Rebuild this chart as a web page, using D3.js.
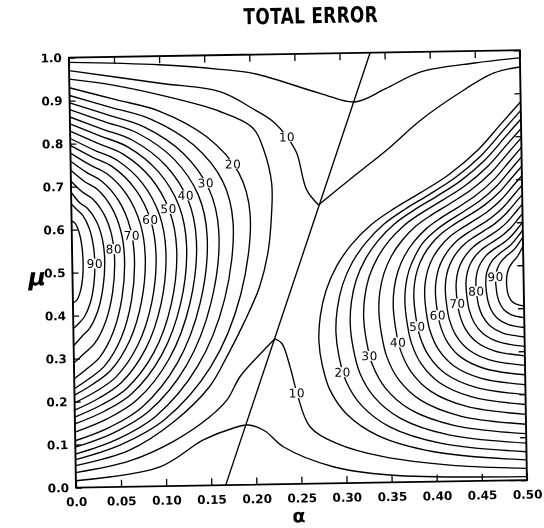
<!DOCTYPE html>
<html>
<head>
<meta charset="utf-8">
<script src="https://cdn.jsdelivr.net/npm/d3@7"></script>
<style>
  body { margin: 0; background: #fff; }
  svg { filter: grayscale(1); }
  text { font-family: "DejaVu Sans", "Liberation Sans", sans-serif; }
</style>
</head>
<body>
<svg id="chart" width="544" height="528"></svg>
<script>
// ---- data -------------------------------------------------------------
const alphaTicks = [0, 0.05, 0.10, 0.15, 0.20, 0.25, 0.30, 0.35, 0.40, 0.45, 0.50];
const muTicks = [0, 0.1, 0.2, 0.3, 0.4, 0.5, 0.6, 0.7, 0.8, 0.9, 1.0];

// straight optimum line
const ridgeAlpha = [0.166, 0.334];
const ridgeMu = [0, 1];

// contour arcs that close on a side edge, levels 15..95
const arcLevels = [15, 20, 25, 30, 35, 40, 45, 50, 55, 60, 65, 70, 75, 80, 85, 90, 95];

// arcs touching alpha = 0, points [alpha, mu] from bottom edge point to top edge point
const leftArcs = [
  [[0,.051],[.06,.085],[.11,.15],[.15,.23],[.17,.30],[.19,.38],[.207,.459],[.217,.538],[.2215,.62],[.2225,.70],[.214,.78],[.2028,.829],[.1665,.869],[.10,.91],[.05,.934],[0,.95]],
  [[0,.065],[.0513,.099],[.099,.154],[.1517,.276],[.1861,.442],[.198,.63],[.1861,.726],[.1517,.81],[.099,.8725],[.0513,.9005],[0,.93]],
  [[0,.078],[.0464,.1106],[.0895,.1623],[.1371,.2776],[.1683,.4332],[.179,.61],[.1683,.7064],[.1371,.7913],[.0895,.8542],[.0464,.8824],[0,.912]],
  [[0,.094],[.0422,.1254],[.0815,.1735],[.1249,.2807],[.1532,.4255],[.163,.59],[.1532,.6875],[.1249,.7733],[.0815,.8368],[.0422,.8653],[0,.895]],
  [[0,.109],[.0389,.1395],[.075,.1851],[.1149,.2868],[.141,.424],[.150,.58],[.141,.6754],[.1149,.7594],[.075,.8216],[.0389,.8495],[0,.879]],
  [[0,.129],[.0357,.1585],[.069,.2011],[.1057,.2961],[.1297,.4243],[.138,.57],[.1297,.663],[.1057,.7449],[.069,.8056],[.0357,.8328],[0,.862]],
  [[0,.148],[.0329,.1765],[.0635,.2162],[.0973,.3047],[.1194,.4242],[.127,.56],[.1194,.651],[.0973,.731],[.0635,.7904],[.0329,.817],[0,.846]],
  [[0,.164],[.03,.1916],[.058,.2287],[.0889,.3114],[.109,.4231],[.116,.55],[.109,.6386],[.0889,.7165],[.058,.7743],[.03,.8002],[0,.829]],
  [[0,.18],[.0269,.2069],[.052,.2419],[.0797,.32],[.0978,.4253],[.104,.545],[.0978,.6295],[.0797,.7038],[.052,.7589],[.0269,.7836],[0,.812]],
  [[0,.197],[.0241,.2232],[.0465,.256],[.0712,.3291],[.0874,.4278],[.093,.54],[.0874,.6207],[.0712,.6917],[.0465,.7444],[.0241,.768],[0,.796]],
  [[0,.215],[.021,.2404],[.0405,.2709],[.062,.3389],[.0761,.4307],[.081,.535],[.0761,.6113],[.062,.6784],[.0405,.7281],[.021,.7504],[0,.778]],
  [[0,.23],[.0179,.2547],[.0345,.2832],[.0529,.3467],[.0649,.4325],[.069,.53],[.0649,.6015],[.0529,.6644],[.0345,.711],[.0179,.7319],[0,.759]],
  [[0,.253],[.015,.2769],[.029,.3031],[.0444,.3615],[.0545,.4404],[.058,.53],[.0545,.5943],[.0444,.6509],[.029,.6928],[.015,.7116],[0,.738]],
  [[0,.29],[.0122,.3126],[.0235,.3351],[.036,.3853],[.0442,.453],[.047,.53],[.0442,.5857],[.036,.6348],[.0235,.6712],[.0122,.6875],[0,.713]],
  [[0,.33],[.0093,.3513],[.018,.3698],[.0276,.411],[.0338,.4667],[.036,.53],[.0338,.5769],[.0276,.6181],[.018,.6486],[.0093,.6623],[0,.687]],
  [[0,.37],[.0065,.3828],[.0125,.397],[.0192,.4287],[.0235,.4714],[.025,.52],[.0235,.5645],[.0192,.6036],[.0125,.6326],[.0065,.6456],[0,.66]],
  [[0,.43],[.0031,.4331],[.006,.4421],[.0092,.4621],[.0113,.4892],[.012,.52],[.0113,.5542],[.0092,.5843],[.006,.6066],[.0031,.6166],[0,.62]]
];

// arcs touching alpha = 0.5, points [alpha, mu] from bottom edge point to top edge point
const rightArcs = [
  [[.5,.047],[.3974,.0696],[.3358,.1093],[.3016,.1602],[.2834,.2168],[.2754,.2734],[.272,.33],[.274,.39],[.281,.45],[.293,.505],[.31,.555],[.332,.60],[.358,.637],[.387,.672],[.42,.715],[.452,.77],[.478,.83],[.5,.88]],
  [[.5,.066],[.406,.0887],[.3495,.1285],[.3182,.1796],[.3014,.2364],[.2941,.2932],[.291,.35],[.2929,.4056],[.2992,.4612],[.3102,.5122],[.3259,.5586],[.346,.6004],[.3698,.6346],[.3963,.6672],[.4266,.707],[.4559,.758],[.4799,.8136],[.5,.86]],
  [[.5,.086],[.4131,.1087],[.361,.1485],[.3321,.1996],[.3166,.2564],[.3099,.3132],[.307,.37],[.3087,.4212],[.3145,.4725],[.3248,.5195],[.3392,.5622],[.3578,.6008],[.3798,.6323],[.4043,.6623],[.4323,.699],[.4593,.746],[.4815,.7972],[.5,.84]],
  [[.5,.108],[.4199,.1302],[.3718,.1689],[.3451,.2188],[.3309,.2742],[.3247,.3296],[.322,.385],[.3236,.4322],[.3289,.4794],[.3384,.5227],[.3517,.5621],[.3688,.5976],[.3891,.6266],[.4117,.6543],[.4375,.6881],[.4624,.7314],[.4829,.7786],[.5,.818]],
  [[.5,.13],[.4275,.1516],[.3841,.1894],[.3599,.238],[.347,.292],[.3414,.346],[.339,.40],[.3404,.4432],[.3453,.4863],[.3538,.5259],[.3659,.562],[.3813,.5944],[.3997,.621],[.4201,.6463],[.4435,.6772],[.466,.7168],[.4845,.76],[.5,.796]],
  [[.5,.153],[.4347,.1736],[.3956,.2095],[.3738,.2558],[.3622,.3072],[.3572,.3586],[.355,.41],[.3563,.4497],[.3607,.4894],[.3683,.5258],[.3792,.5589],[.3931,.5887],[.4097,.6131],[.4281,.6364],[.4491,.6648],[.4694,.7012],[.4861,.7409],[.5,.774]],
  [[.5,.176],[.4406,.1955],[.405,.2297],[.3852,.2736],[.3746,.3224],[.37,.3712],[.368,.42],[.3692,.4562],[.3731,.4924],[.3801,.5256],[.389,.5558],[.4027,.583],[.4178,.6053],[.4345,.6265],[.4537,.6524],[.4721,.6856],[.4873,.7218],[.5,.752]],
  [[.5,.199],[.4451,.2175],[.4122,.2498],[.3939,.2914],[.3841,.3376],[.3798,.3838],[.378,.43],[.3791,.4627],[.3828,.4954],[.3892,.5254],[.3984,.5527],[.4101,.5773],[.424,.5974],[.4395,.6166],[.4572,.64],[.4743,.67],[.4883,.7027],[.5,.73]],
  [[.5,.222],[.4505,.239],[.4208,.2689],[.4043,.3072],[.3955,.3498],[.3916,.3924],[.39,.435],[.391,.4648],[.3943,.4945],[.4001,.5218],[.4084,.5467],[.4189,.569],[.4315,.5873],[.4454,.6048],[.4614,.6261],[.4768,.6534],[.4894,.6832],[.5,.708]],
  [[.5,.245],[.4559,.2606],[.4294,.2879],[.4147,.323],[.4069,.362],[.4035,.401],[.402,.44],[.4029,.4668],[.4058,.4936],[.411,.5182],[.4184,.5406],[.4278,.5608],[.4389,.5773],[.4514,.593],[.4656,.6122],[.4793,.6368],[.4906,.6636],[.5,.686]],
  [[.5,.267],[.4608,.2812],[.4374,.3062],[.4243,.3382],[.4173,.3738],[.4143,.4094],[.413,.445],[.4138,.4689],[.4164,.4927],[.421,.5146],[.4275,.5346],[.4359,.5525],[.4458,.5672],[.4568,.5812],[.4695,.5983],[.4816,.6202],[.4916,.6441],[.5,.664]],
  [[.5,.289],[.4662,.3019],[.446,.3244],[.4347,.3534],[.4287,.3856],[.4261,.4178],[.425,.45],[.4257,.4709],[.4279,.4919],[.4319,.5111],[.4375,.5285],[.4447,.5443],[.4533,.5571],[.4628,.5694],[.4737,.5844],[.4842,.6036],[.4928,.6245],[.5,.642]],
  [[.5,.311],[.4712,.3225],[.4539,.3427],[.4443,.3686],[.4392,.3974],[.437,.4262],[.436,.455],[.4366,.473],[.4385,.491],[.4419,.5075],[.4467,.5225],[.4528,.536],[.4601,.5471],[.4683,.5576],[.4775,.5705],[.4865,.587],[.4939,.605],[.5,.62]],
  [[.5,.333],[.4761,.343],[.4618,.3605],[.4539,.383],[.4496,.408],[.4478,.433],[.447,.458],[.4475,.4735],[.4491,.489],[.4519,.5032],[.4559,.5161],[.4609,.5277],[.467,.5372],[.4737,.5463],[.4814,.5574],[.4888,.5716],[.4949,.5871],[.5,.60]],
  [[.5,.355],[.4811,.3634],[.4698,.3781],[.4635,.397],[.4601,.418],[.4586,.439],[.458,.46],[.4596,.4866],[.465,.5099],[.4738,.5281],[.4853,.5454],[.496,.5709],[.5,.582]],
  [[.5,.378],[.486,.385],[.4777,.3971],[.473,.4128],[.4705,.4302],[.4695,.4476],[.469,.465],[.4702,.4868],[.4742,.5059],[.4807,.5208],[.4891,.535],[.497,.5559],[.5,.565]],
  [[.5,.405],[.4914,.4094],[.4863,.4171],[.4835,.427],[.4819,.438],[.4813,.449],[.481,.46],[.4817,.4785],[.4842,.4948],[.4882,.5074],[.4933,.5195],[.4982,.5373],[.5,.545]]
];

// the two low levels run right across the plot, kinked on the optimum line
const level5Top = [[[0,.989],[.1,.98],[.167,.967],[.204,.9565],[.2777,.9075],[.316,.886],[.35,.915],[.389,.953],[.45,.972],[.5,.982]]];
const level10Top = [
  [[0,.97],[.1006,.937],[.1668,.915],[.2035,.8735],[.2254,.8433],[.2404,.807],[.2507,.77],[.2612,.6833],[.274,.648]],
  [[.274,.648],[.313,.712],[.3507,.773],[.388,.84],[.43,.9],[.471,.948],[.5,.961]]
];
const level5Bottom = [[[0,.016],[.0935,.045],[.142,.106],[.175,.132],[.192,.139],[.21,.125],[.2306,.087],[.2856,.0386],[.3483,.0172],[.5,.008]]];
const level10Bottom = [
  [[0,.035],[.06,.06],[.11,.105],[.15,.16],[.169,.198],[.184,.252],[.205,.30],[.223,.338]],
  [[.223,.338],[.2307,.3277],[.2395,.2728],[.2467,.2114],[.2605,.1326],[.2898,.093],[.3413,.06],[.415,.038],[.5,.0274]]
];

// contour labels: [level, contour, alpha, mu]
const labelSpots = [
  [90,"left",.023,.52],[80,"left",.045,.553],[70,"left",.067,.585],[60,"left",.087,.62],
  [50,"left",.107,.644],[40,"left",.128,.676],[30,"left",.152,.706],[20,"left",.182,.749],
  [10,"top",.2404,.807],
  [10,"bottom",.2467,.2114],[20,"right",.298,.2585],[30,"right",.3317,.297],[40,"right",.3618,.326],
  [50,"right",.3855,.3626],[60,"right",.4067,.387],[70,"right",.429,.4144],[80,"right",.449,.442],
  [90,"right",.4706,.4735]
];

// ---- layout -----------------------------------------------------------
const W = 544, H = 528;
const plot = { left: 72.4, right: 523.4, top: 53.9, bottom: 483.9 };
const tilt = -0.95;
const cx = (plot.left + plot.right) / 2, cy = (plot.top + plot.bottom) / 2;

const x = d3.scaleLinear().domain([0, 0.5]).range([plot.left, plot.right]);
const y = d3.scaleLinear().domain([0, 1]).range([plot.bottom, plot.top]);

const svg = d3.select("#chart");
svg.append("rect").attr("width", W).attr("height", H).attr("fill", "#fff");

const g = svg.append("g").attr("transform", `rotate(${tilt},${cx},${cy})`);

// title
g.append("text")
  .attr("transform", `translate(${cx + 17},23.5) scale(0.77,1)`)
  .attr("text-anchor", "middle")
  .attr("font-size", 22).attr("font-weight", "bold")
  .attr("font-family", "'Liberation Sans', Arial, sans-serif")
  .attr("letter-spacing", 0.4)
  .text("TOTAL ERROR");

const line = d3.line().x(d => x(d[0])).y(d => y(d[1])).curve(d3.curveCatmullRom.alpha(0.5));
const cont = g.append("g").attr("fill", "none").attr("stroke", "#000").attr("stroke-width", 1.35)
  .attr("stroke-linejoin", "round");

const pathsByKey = {};
function drawSegs(segs, key) {
  pathsByKey[key] = pathsByKey[key] || [];
  segs.forEach(s => {
    const p = cont.append("path").attr("d", line(s));
    pathsByKey[key].push(p.node());
  });
}
arcLevels.forEach((lv, i) => {
  drawSegs([leftArcs[i]], "left" + lv);
  drawSegs([rightArcs[i]], "right" + lv);
});
drawSegs(level5Top, "top5");
drawSegs(level10Top, "top10");
drawSegs(level5Bottom, "bottom5");
drawSegs(level10Bottom, "bottom10");

// optimum line
g.append("line")
  .attr("x1", x(ridgeAlpha[0])).attr("y1", y(ridgeMu[0]))
  .attr("x2", x(ridgeAlpha[1])).attr("y2", y(ridgeMu[1]))
  .attr("stroke", "#000").attr("stroke-width", 1.35);

// contour labels, snapped onto their own contour; a white patch breaks the line
const halo = g.append("g");
const lab = g.append("g");
labelSpots.forEach(([lv, side, a, m]) => {
  const key = side + lv;
  const tx = x(a), ty = y(m);
  let best = null, bd = Infinity;
  (pathsByKey[key] || []).forEach(node => {
    const L = node.getTotalLength();
    for (let s = 0; s <= L; s += 0.5) {
      const pt = node.getPointAtLength(s);
      const d = (pt.x - tx) ** 2 + (pt.y - ty) ** 2;
      if (d < bd) { bd = d; best = pt; }
    }
  });
  if (!best) best = { x: tx, y: ty };
  halo.append("rect")
    .attr("x", best.x - 8).attr("y", best.y - 5)
    .attr("width", 16).attr("height", 10)
    .attr("fill", "#fff");
  lab.append("text")
    .attr("x", best.x).attr("y", best.y + 4.3)
    .attr("text-anchor", "middle")
    .attr("font-size", 12).attr("letter-spacing", 0.6)
    .attr("fill", "#000")
    .text(lv);
});

// frame
g.append("rect")
  .attr("x", plot.left).attr("y", plot.top)
  .attr("width", plot.right - plot.left).attr("height", plot.bottom - plot.top)
  .attr("fill", "none").attr("stroke", "#000").attr("stroke-width", 1.9);

// axes with inward ticks
const fmtA = d => d === 0 ? "0.0" : d3.format(".2f")(d);
const fmtM = d3.format(".1f");
const axB = g.append("g").attr("transform", `translate(0,${plot.bottom})`)
  .call(d3.axisBottom(x).tickValues(alphaTicks).tickFormat(fmtA).tickSizeInner(-7).tickSizeOuter(0).tickPadding(10));
const axT = g.append("g").attr("transform", `translate(0,${plot.top})`)
  .call(d3.axisTop(x).tickValues(alphaTicks).tickFormat("").tickSizeInner(-7).tickSizeOuter(0));
const axL = g.append("g").attr("transform", `translate(${plot.left},0)`)
  .call(d3.axisLeft(y).tickValues(muTicks).tickFormat(fmtM).tickSizeInner(-6).tickSizeOuter(0).tickPadding(7));
const axR = g.append("g").attr("transform", `translate(${plot.right},0)`)
  .call(d3.axisRight(y).tickValues(muTicks).tickFormat("").tickSizeInner(-6).tickSizeOuter(0));
[axB, axT, axL, axR].forEach(a => {
  a.select(".domain").remove();
  a.selectAll("line").attr("stroke", "#000").attr("stroke-width", 1.3);
  a.selectAll("text").attr("font-size", 12).attr("font-weight", "bold")
    .attr("font-family", "'DejaVu Sans', sans-serif")
    .attr("fill", "#000");
});

// axis symbols
g.append("text").attr("x", 37).attr("y", 281).attr("text-anchor", "middle")
  .attr("font-size", 24).attr("font-weight", "bold").attr("font-style", "italic")
  .attr("font-family", "'DejaVu Serif', serif").text("μ");
g.append("text").attr("x", cx - 3).attr("y", 522.5).attr("text-anchor", "middle")
  .attr("font-size", 19).attr("font-weight", "bold")
  .attr("font-family", "'DejaVu Sans', sans-serif").text("α");
</script>
</body>
</html>
